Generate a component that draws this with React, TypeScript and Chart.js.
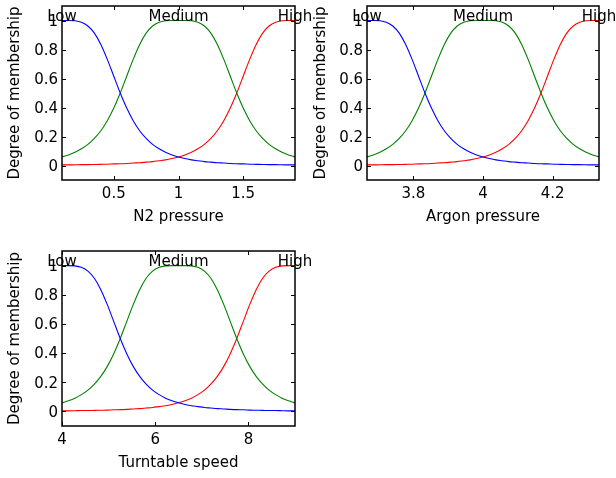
import React, { useEffect, useRef } from 'react';
import { Chart, registerables } from 'chart.js';

Chart.register(...registerables);

const FONT = '"DejaVu Sans", sans-serif';

// Membership function names and y-axis ticks
const mfNames = ['Low', 'Medium', 'High'];
const yTicks = [0, 0.2, 0.4, 0.6, 0.8, 1];

// Membership degrees (same shape in all three plots)
const lowMembership = [1, 1, 0.998, 0.988, 0.962, 0.913, 0.835, 0.732, 0.616, 0.5, 0.396, 0.309, 0.24, 0.187, 0.146, 0.115, 0.091, 0.073, 0.059, 0.048, 0.039, 0.033, 0.027, 0.023, 0.019, 0.017, 0.014, 0.012, 0.011, 0.009, 0.008, 0.007, 0.006, 0.006, 0.005, 0.004, 0.004];
const mediumMembership = [0.059, 0.073, 0.091, 0.115, 0.146, 0.187, 0.24, 0.309, 0.396, 0.5, 0.616, 0.732, 0.835, 0.913, 0.962, 0.988, 0.998, 1, 1, 1, 0.998, 0.988, 0.962, 0.913, 0.835, 0.732, 0.616, 0.5, 0.396, 0.309, 0.24, 0.187, 0.146, 0.115, 0.091, 0.073, 0.059];
const highMembership = [0.004, 0.004, 0.005, 0.006, 0.006, 0.007, 0.008, 0.009, 0.011, 0.012, 0.014, 0.017, 0.019, 0.023, 0.027, 0.033, 0.039, 0.048, 0.059, 0.073, 0.091, 0.115, 0.146, 0.187, 0.24, 0.309, 0.396, 0.5, 0.616, 0.732, 0.835, 0.913, 0.962, 0.988, 0.998, 1, 1];

// N2 pressure
const n2X = [0.1, 0.15, 0.2, 0.25, 0.3, 0.35, 0.4, 0.45, 0.5, 0.55, 0.6, 0.65, 0.7, 0.75, 0.8, 0.85, 0.9, 0.95, 1, 1.05, 1.1, 1.15, 1.2, 1.25, 1.3, 1.35, 1.4, 1.45, 1.5, 1.55, 1.6, 1.65, 1.7, 1.75, 1.8, 1.85, 1.9];
const n2Ticks = [0.5, 1, 1.5];
const n2Centers = [0.1, 1, 1.9];

// Argon pressure
const argonX = [3.6667, 3.6852, 3.7037, 3.7222, 3.7407, 3.7593, 3.7778, 3.7963, 3.8148, 3.8333, 3.8519, 3.8704, 3.8889, 3.9074, 3.9259, 3.9444, 3.963, 3.9815, 4, 4.0185, 4.037, 4.0556, 4.0741, 4.0926, 4.1111, 4.1296, 4.1481, 4.1667, 4.1852, 4.2037, 4.2222, 4.2407, 4.2593, 4.2778, 4.2963, 4.3148, 4.3333];
const argonTicks = [3.8, 4, 4.2];
const argonCenters = [3.6667, 4, 4.3333];

// Turntable speed
const turnX = [4, 4.139, 4.278, 4.417, 4.556, 4.694, 4.833, 4.972, 5.111, 5.25, 5.389, 5.528, 5.667, 5.806, 5.944, 6.083, 6.222, 6.361, 6.5, 6.639, 6.778, 6.917, 7.056, 7.194, 7.333, 7.472, 7.611, 7.75, 7.889, 8.028, 8.167, 8.306, 8.444, 8.583, 8.722, 8.861, 9];
const turnTicks = [4, 6, 8];
const turnCenters = [4, 6.5, 9];

const yLabel = 'Degree of membership';

const boxPlugin = {
  id: 'matlabBox',
  afterDraw(chart: any, _args: any, opts: any) {
    const { ctx, chartArea: a, scales } = chart;
    const x = scales.x;
    const y = scales.y;
    ctx.save();
    ctx.strokeStyle = '#000';
    ctx.lineWidth = 1;
    const L = 4;
    ctx.beginPath();
    x.ticks.forEach((t: any) => {
      const px = Math.round(x.getPixelForValue(t.value)) + 0.5;
      ctx.moveTo(px, a.bottom);
      ctx.lineTo(px, a.bottom - L);
      ctx.moveTo(px, a.top);
      ctx.lineTo(px, a.top + L);
    });
    y.ticks.forEach((t: any) => {
      const py = Math.round(y.getPixelForValue(t.value)) + 0.5;
      ctx.moveTo(a.left, py);
      ctx.lineTo(a.left + L, py);
      ctx.moveTo(a.right, py);
      ctx.lineTo(a.right - L, py);
    });
    ctx.stroke();
    ctx.lineWidth = 1.5;
    ctx.strokeRect(a.left, a.top, a.right - a.left, a.bottom - a.top);
    ctx.fillStyle = '#000';
    ctx.font = '15px ' + FONT;
    ctx.textAlign = 'center';
    ctx.textBaseline = 'alphabetic';
    (opts.names as string[]).forEach((n, i) => {
      ctx.fillText(n, x.getPixelForValue(opts.centers[i]), y.getPixelForValue(1));
    });
    ctx.restore();
  },
};

type Spec = {
  left: number; top: number; width: number; height: number;
  yAxisWidth: number; xAxisHeight: number; padTop: number; padRight: number;
  xTitlePad: number; xMin: number; xMax: number; xs: number[]; xTicks: number[];
  centers: number[]; xLabel: string;
};

function MfPlot({ spec }: { spec: Spec }) {
  const ref = useRef<HTMLCanvasElement>(null);
  useEffect(() => {
    const mk = (ys: number[]) => spec.xs.map((x, i) => ({ x, y: ys[i] }));
    const ds = (ys: number[], color: string) => ({
      data: mk(ys),
      borderColor: color,
      borderWidth: 1.1,
      pointRadius: 0,
      fill: false,
      cubicInterpolationMode: 'monotone' as const,
    });
    const chart = new Chart(ref.current!, {
      type: 'line',
      data: {
        datasets: [
          ds(lowMembership, '#0000ff'),
          ds(mediumMembership, '#008000'),
          ds(highMembership, '#ff0000'),
        ],
      },
      options: {
        animation: false,
        responsive: false,
        devicePixelRatio: 1,
        events: [],
        layout: { padding: { left: 0, top: spec.padTop, right: spec.padRight, bottom: 0 } },
        plugins: {
          legend: { display: false },
          tooltip: { enabled: false },
          matlabBox: { names: mfNames, centers: spec.centers },
        } as any,
        scales: {
          x: {
            type: 'linear',
            min: spec.xMin,
            max: spec.xMax,
            offset: false,
            grid: { display: false, drawTicks: false },
            border: { display: false },
            ticks: {
              color: '#000',
              font: { family: FONT, size: 15, lineHeight: 1 },
              padding: 7,
              maxRotation: 0,
              autoSkip: false,
              callback: (v: any) => String(v),
            },
            title: {
              display: true,
              text: spec.xLabel,
              color: '#000',
              font: { family: FONT, size: 15, lineHeight: 1 },
              padding: { top: 0, bottom: spec.xTitlePad },
            },
            afterBuildTicks: (s: any) => { s.ticks = spec.xTicks.map((v) => ({ value: v })); },
            afterFit: (s: any) => {
              s.height = spec.xAxisHeight;
              s.paddingLeft = 0; s.paddingRight = 0; s.paddingTop = 0; s.paddingBottom = 0;
            },
          },
          y: {
            type: 'linear',
            min: -0.1,
            max: 1.1,
            grid: { display: false, drawTicks: false },
            border: { display: false },
            ticks: {
              color: '#000',
              font: { family: FONT, size: 15, lineHeight: 1 },
              padding: 4,
              labelOffset: 1.5,
              autoSkip: false,
              callback: (v: any) => String(v),
            },
            title: {
              display: true,
              text: yLabel,
              color: '#000',
              font: { family: FONT, size: 15, lineHeight: 1 },
              padding: { top: 7.5, bottom: 0 },
            },
            afterBuildTicks: (s: any) => { s.ticks = yTicks.map((v) => ({ value: v })); },
            afterFit: (s: any) => {
              s.width = spec.yAxisWidth;
              s.paddingLeft = 0; s.paddingRight = 0; s.paddingTop = 0; s.paddingBottom = 0;
            },
          },
        },
      },
      plugins: [boxPlugin],
    } as any);
    return () => chart.destroy();
  }, []);
  return (
    <canvas
      ref={ref}
      width={spec.width}
      height={spec.height}
      style={{ position: 'absolute', left: spec.left, top: spec.top, width: spec.width, height: spec.height }}
    />
  );
}

const specs: Spec[] = [
  { left: 0, top: 0, width: 320, height: 240, yAxisWidth: 62, xAxisHeight: 60, padTop: 6, padRight: 25, xTitlePad: 15.5, xMin: 0.1, xMax: 1.9, xs: n2X, xTicks: n2Ticks, centers: n2Centers, xLabel: 'N2 pressure' },
  { left: 306, top: 0, width: 310, height: 240, yAxisWidth: 61, xAxisHeight: 60, padTop: 6, padRight: 17, xTitlePad: 15.5, xMin: 3.6667, xMax: 4.3333, xs: argonX, xTicks: argonTicks, centers: argonCenters, xLabel: 'Argon pressure' },
  { left: 0, top: 245, width: 320, height: 233, yAxisWidth: 62, xAxisHeight: 52, padTop: 6, padRight: 25, xTitlePad: 7.5, xMin: 4, xMax: 9, xs: turnX, xTicks: turnTicks, centers: turnCenters, xLabel: 'Turntable speed' },
];

export default function App() {
  return (
    <div style={{ position: 'absolute', left: 0, top: 0, width: 616, height: 478, background: '#fff', overflow: 'hidden' }}>
      {specs.map((s, i) => (
        <MfPlot key={i} spec={s} />
      ))}
    </div>
  );
}
